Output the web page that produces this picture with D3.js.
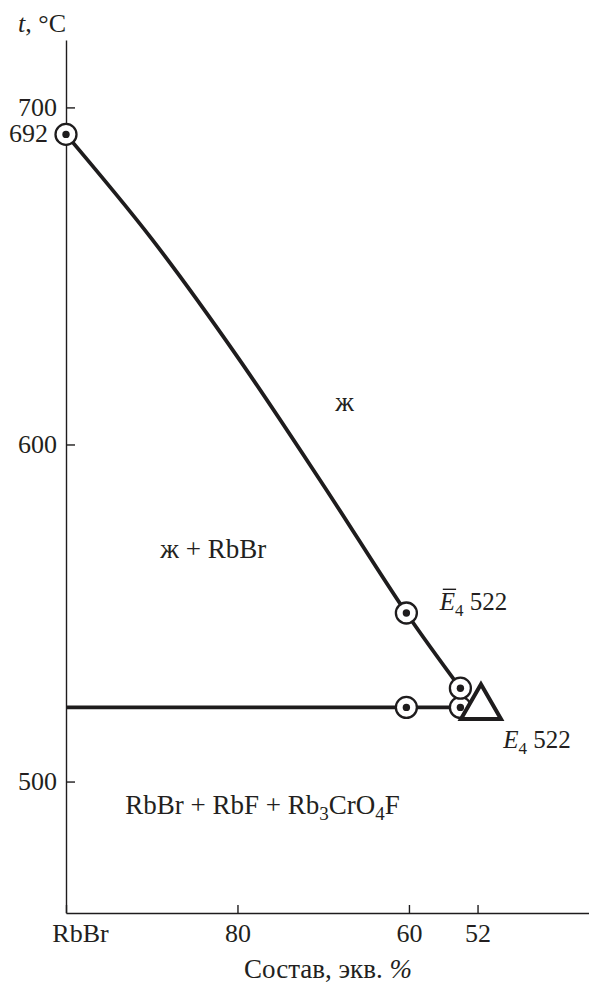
<!DOCTYPE html>
<html>
<head>
<meta charset="utf-8">
<script src="https://cdn.jsdelivr.net/npm/d3@7"></script>
<style>
  body { margin: 0; background: #fff; }
  svg { display: block; }
  text { font-family: "Liberation Serif", "Times New Roman", serif; fill: #231f20; }
</style>
</head>
<body>
<svg id="chart" width="589" height="986"></svg>
<script>
// Composition axis (equiv. % RbBr) and temperature axis
const xTicks = [100, 80, 60, 52];
const xTickLabels = ["RbBr", "80", "60", "52"];
const yTicks = [700, 600, 500];

// Liquidus of RbBr primary crystallisation
const liquidusComp = [100, 90, 80, 70, 60.3, 54];
const liquidusTemp = [692, 661, 626, 588, 550, 527.7];

// Horizontal at the ternary eutectic temperature
const tieComp = [100, 54];
const tieTemp = [522, 522];

// Experimental points (ring + dot)
const pointComp = [100, 60.3, 54, 60.3, 54];
const pointTemp = [692, 522, 522, 550, 527.7];

// Eutectic E4
const eutecticComp = 51.6;
const eutecticTemp = 522;

const svg = d3.select("#chart");
const ink = "#1e1c1d";

const x = d3.scaleLinear().domain([100, 39]).range([66, 589]);
const y = d3.scaleLinear().domain([461, 720]).range([913, 40]);

// Y axis
const gy = svg.append("g")
  .attr("transform", `translate(${x(100)},0)`)
  .call(d3.axisLeft(y).tickValues(yTicks).tickSizeInner(-9).tickSizeOuter(0).tickPadding(9).tickFormat(d3.format("d")));
gy.select(".domain").attr("stroke", ink).attr("stroke-width", 1.4);
gy.selectAll(".tick line").attr("stroke", ink).attr("stroke-width", 1.4);
gy.selectAll(".tick text").attr("font-size", 26).attr("font-family", null).attr("fill", "#231f20");

// X axis
const gx = svg.append("g")
  .attr("transform", `translate(0,${y(461)})`)
  .call(d3.axisBottom(x).tickValues(xTicks).tickSizeInner(-8).tickSizeOuter(0).tickPadding(11)
    .tickFormat((d, i) => xTickLabels[i]));
gx.select(".domain").attr("stroke", ink).attr("stroke-width", 1.4);
gx.selectAll(".tick line").attr("stroke", ink).attr("stroke-width", 1.4);
gx.selectAll(".tick text").attr("font-size", 26).attr("font-family", null).attr("fill", "#231f20")
  .attr("dx", d => d === 100 ? 14 : 0);

// Axis titles
const yTitle = svg.append("text").attr("x", 18).attr("y", 32).attr("font-size", 26);
yTitle.append("tspan").attr("font-style", "italic").text("t");
yTitle.append("tspan").text(", °C");

const xTitle = svg.append("text").attr("x", 328).attr("y", 978).attr("font-size", 27).attr("text-anchor", "middle");
xTitle.append("tspan").text("Состав, экв. ");
xTitle.append("tspan").attr("font-style", "italic").text("%");

// Liquidus curve
const liq = liquidusComp.map((c, i) => [c, liquidusTemp[i]]);
svg.append("path")
  .attr("d", d3.line().x(d => x(d[0])).y(d => y(d[1])).curve(d3.curveCatmullRom.alpha(0.5))(liq))
  .attr("fill", "none").attr("stroke", ink).attr("stroke-width", 3.8);

// Eutectic horizontal
svg.append("path")
  .attr("d", d3.line().x(d => x(d[0])).y(d => y(d[1]))(tieComp.map((c, i) => [c, tieTemp[i]])))
  .attr("fill", "none").attr("stroke", ink).attr("stroke-width", 3.6);

// Points
const pts = svg.append("g").selectAll("g").data(pointComp.map((c, i) => [c, pointTemp[i]])).join("g")
  .attr("transform", d => `translate(${x(d[0])},${y(d[1])})`);
pts.append("circle").attr("r", 10.5).attr("fill", "#fff").attr("stroke", ink).attr("stroke-width", 2.3);
pts.append("circle").attr("r", 3.7).attr("fill", ink);

// Eutectic triangle
const side = 40, h = side * Math.sqrt(3) / 2;
const tx = x(eutecticComp), ty = y(eutecticTemp);
svg.append("path")
  .attr("d", `M${tx},${ty - 2 * h / 3} L${tx + side / 2},${ty + h / 3} L${tx - side / 2},${ty + h / 3} Z`)
  .attr("fill", "#fff").attr("stroke", ink).attr("stroke-width", 4).attr("stroke-linejoin", "miter");

// Melting point label
svg.append("text").attr("x", x(100) - 18).attr("y", y(692) + 8).attr("font-size", 26)
  .attr("text-anchor", "end").text("692");

// Phase field labels
svg.append("text").attr("x", x(67.5)).attr("y", y(610)).attr("font-size", 27)
  .attr("text-anchor", "middle").text("ж");
svg.append("text").attr("x", x(89)).attr("y", y(566.2)).attr("font-size", 27).text("ж + RbBr");

const lowLabel = svg.append("text").attr("x", x(93.1)).attr("y", y(490.5)).attr("font-size", 27);
lowLabel.append("tspan").text("RbBr + RbF + Rb");
lowLabel.append("tspan").attr("font-size", 19).attr("dy", 6).text("3");
lowLabel.append("tspan").attr("dy", -6).text("CrO");
lowLabel.append("tspan").attr("font-size", 19).attr("dy", 6).text("4");
lowLabel.append("tspan").attr("dy", -6).text("F");

// Point labels
function eLabel(comp, temp, bar) {
  const t = svg.append("text").attr("x", x(comp)).attr("y", y(temp)).attr("font-size", 25);
  t.append("tspan").attr("font-style", "italic").text("E");
  t.append("tspan").attr("font-size", 17).attr("dy", 6).text("4");
  t.append("tspan").attr("dy", -6).text(" 522");
  if (bar) {
    const ext = t.node().getExtentOfChar(0);
    svg.append("line")
      .attr("x1", ext.x + 3).attr("x2", ext.x + ext.width + 1)
      .attr("y1", y(temp) - 21).attr("y2", y(temp) - 21)
      .attr("stroke", ink).attr("stroke-width", 1.4);
  }
}
eLabel(56.4, 550.8, true);
eLabel(49.0, 510, false);
</script>
</body>
</html>
